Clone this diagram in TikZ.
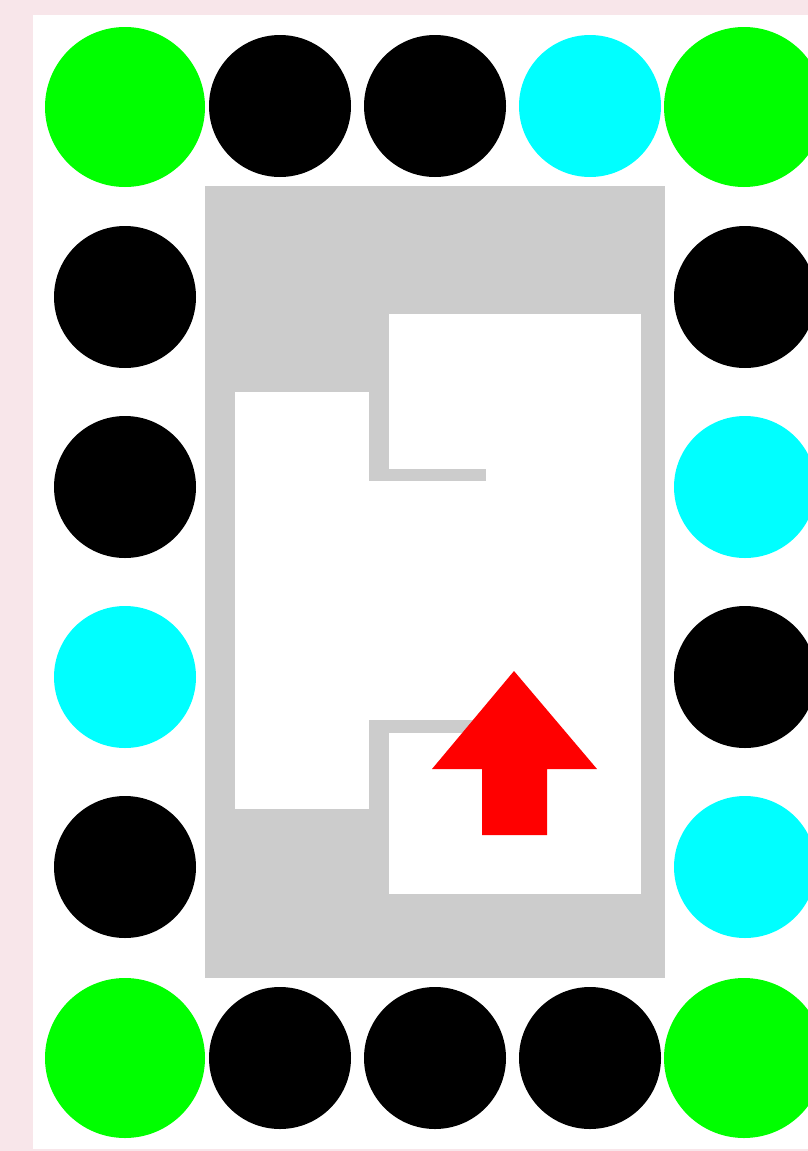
\documentclass[tikz,border=0pt]{standalone}
\usepackage{tikz}
\usepackage{xcolor}
\definecolor{framepink}{RGB}{248,230,234}
\definecolor{wallgray}{RGB}{204,204,204}
\definecolor{dotgreen}{RGB}{0,255,0}
\definecolor{dotcyan}{RGB}{0,255,255}
\definecolor{arrowred}{RGB}{255,0,0}
\tikzset{
    basedot/.style={circle, inner sep=0pt, minimum size=142pt},
    blackdot/.style={basedot, fill=black},
    cyandot/.style={basedot, fill=dotcyan},
    cornerdot/.style={basedot, minimum size=160pt, fill=dotgreen},
    wall/.style={fill=wallgray},
    room/.style={fill=white}
}

\begin{document}
\begin{tikzpicture}[x=1pt, y=-1pt]

\useasboundingbox (0,0) rectangle (808,1151);

% Frame
\fill[framepink] (0,0) rectangle (808,1151);
\fill[white] (33,15) rectangle (808,1149);

% Corners
\node[cornerdot] (cTL) at (125,107) {};
\node[cornerdot] (cTR) at (744,107) {};
\node[cornerdot] (cBL) at (125,1058) {};
\node[cornerdot] (cBR) at (744,1058) {};

% Top row
\foreach \x/\s [count=\i] in {280/blackdot, 435/blackdot, 590/cyandot}
    \node[\s] (top\i) at (\x,106) {};

% Bottom row
\foreach \x/\s [count=\i] in {280/blackdot, 435/blackdot, 590/blackdot}
    \node[\s] (bot\i) at (\x,1058) {};

% Left column
\foreach \y/\s [count=\i] in {297/blackdot, 487/blackdot, 677/cyandot, 867/blackdot}
    \node[\s] (left\i) at (125,\y) {};

% Right column
\foreach \y/\s [count=\i] in {297/blackdot, 487/cyandot, 677/blackdot, 867/cyandot}
    \node[\s] (right\i) at (745,\y) {};

% Walls
\fill[wall] (205,186) rectangle (665,978);
\fill[room] (389,314) rectangle (641,894);
\fill[room] (235,392) rectangle (369,809);
\fill[room] (369,481) rectangle (389,720);
\fill[wall] (389,469) rectangle (486,481);
\fill[wall] (389,720) rectangle (486,733);

% Arrow
\fill[arrowred] (514,671) -- (597,769) -- (547,769) -- (547,835)
    -- (482,835) -- (482,769) -- (432,769) -- cycle;

\end{tikzpicture}
\end{document}
